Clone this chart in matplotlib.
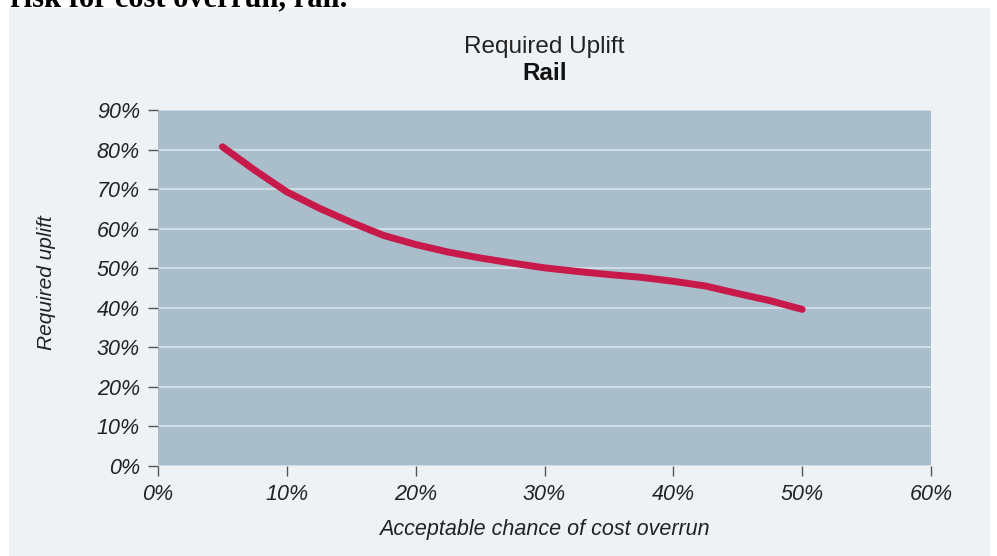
import matplotlib
matplotlib.use("Agg")
import matplotlib.pyplot as plt
from matplotlib.patches import Rectangle
from matplotlib.ticker import FuncFormatter

# Data (percent)
chance = [5, 7.5, 10, 12.5, 15, 17.5, 20, 22.5, 25, 27.5, 30, 32.5, 35, 37.5, 40, 42.5, 45, 47.5, 50]
uplift = [80.7, 74.8, 69.3, 65.2, 61.6, 58.3, 56.0, 54.1, 52.6, 51.3, 50.1, 49.2, 48.4, 47.7, 46.7,
          45.5, 43.6, 41.8, 39.6]
x_ticks = [0, 10, 20, 30, 40, 50, 60]
y_ticks = [0, 10, 20, 30, 40, 50, 60, 70, 80, 90]

W, H = 997, 556
fig = plt.figure(figsize=(W / 100, H / 100), dpi=100)
fig.patch.set_facecolor("white")
plt.rcParams['font.family'] = ['Liberation Sans', 'DejaVu Sans']

# light panel
fig.add_artist(Rectangle((9 / W, 0), (990 - 9) / W, (556 - 8) / H, transform=fig.transFigure,
                         facecolor="#eef2f5", edgecolor="none", zorder=0))

# cut-off caption at the top (partially outside the image, as in the reference)
fig.text(10 / W, 1 - 6 / H, "risk for cost overrun, rail.", family=['Liberation Serif'],
         fontweight='bold', fontsize=22, color='black', ha='left', va='baseline')

left, right, top, bottom = 158, 931, 110, 466
ax = fig.add_axes([left / W, 1 - bottom / H, (right - left) / W, (bottom - top) / H])
ax.set_facecolor("#aabdcb")
for s in ax.spines.values():
    s.set_visible(False)

ax.set_xlim(0, 60)
ax.set_ylim(0, 90)
ax.set_xticks(x_ticks)
ax.set_yticks(y_ticks)
ax.xaxis.set_major_formatter(FuncFormatter(lambda v, p: f"{int(v)}%"))
ax.yaxis.set_major_formatter(FuncFormatter(lambda v, p: f"{int(v)}%"))
ax.tick_params(axis='both', direction='out', length=7, width=1, color='#555555',
               labelsize=15.5, labelcolor='#222222', pad=6)
for lab in ax.get_xticklabels() + ax.get_yticklabels():
    lab.set_fontstyle('italic')

ax.yaxis.grid(True, color='#d4e0e8', linewidth=1.3)
ax.xaxis.grid(False)
ax.set_axisbelow(True)

ax.plot(chance, uplift, color='#c8194b', linewidth=5, solid_capstyle='round',
        solid_joinstyle='round', zorder=3)

fig.text(544.5 / W, 1 - 53 / H, "Required Uplift", ha='center', va='baseline', fontsize=17.5,
         color='#222222')
fig.text(544.5 / W, 1 - 80 / H, "Rail", ha='center', va='baseline', fontsize=17.5,
         fontweight='bold', color='#111111')
fig.text(544.5 / W, 1 - 530 / H, "Acceptable chance of cost overrun", ha='center', va='center',
         fontsize=15.5, style='italic', color='#222222')
fig.text(47 / W, 1 - 283 / H, "Required uplift", ha='center', va='center', rotation=90,
         fontsize=15, style='italic', color='#222222')

fig.savefig("out.png", dpi=100, facecolor=fig.get_facecolor())
